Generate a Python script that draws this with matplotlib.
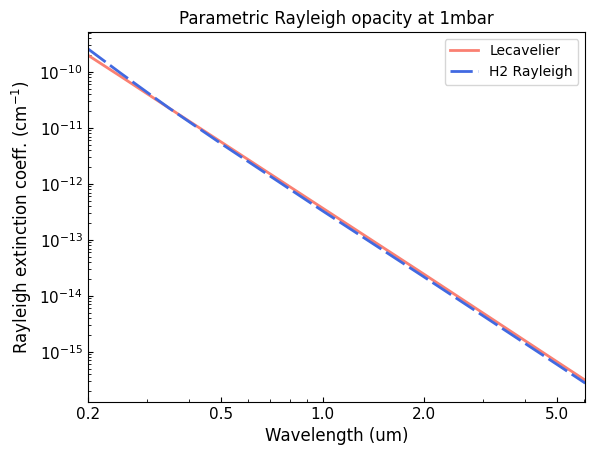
import matplotlib
matplotlib.use("Agg")
import matplotlib.pyplot as plt
from matplotlib.ticker import FixedLocator, FixedFormatter, NullFormatter

# values (wavelength in um, coeff in cm^-1)
wavelength = [0.2, 0.25, 0.3, 0.35, 0.5, 1.0, 2.0, 5.0, 6.06]
lecavelier = [2.0e-10, 8.4e-11, 4.1e-11, 2.24e-11, 5.56e-12, 3.7e-13, 2.46e-14, 6.6e-16, 3.1e-16]
h2_rayleigh = [2.6e-10, 9.6e-11, 4.35e-11, 2.24e-11, 5.2e-12, 3.3e-13, 2.2e-14, 5.9e-16, 2.75e-16]
xtick_vals = [0.2, 0.5, 1.0, 2.0, 5.0]
xtick_labels = ["0.2", "0.5", "1.0", "2.0", "5.0"]
ytick_vals = [1e-15, 1e-14, 1e-13, 1e-12, 1e-11, 1e-10]

fig, ax = plt.subplots(figsize=(5.93, 4.55), dpi=100)
fig.subplots_adjust(left=0.148, right=0.987, bottom=0.117, top=0.93)

ax.plot(wavelength, lecavelier, color="salmon", lw=2, label="Lecavelier")
ax.plot(wavelength, h2_rayleigh, color="royalblue", lw=2, ls=(0, (8, 2)), label="H2 Rayleigh")
ax.set_xscale("log")
ax.set_yscale("log")
ax.set_xlim(0.2, 6.06)
ax.set_ylim(1.28e-16, 5.2e-10)

ax.xaxis.set_major_locator(FixedLocator(xtick_vals))
ax.xaxis.set_major_formatter(FixedFormatter(xtick_labels))
ax.xaxis.set_minor_formatter(NullFormatter())
ax.set_yticks(ytick_vals)
ax.tick_params(which="both", direction="in", labelsize=11)

ax.set_xlabel("Wavelength (um)", fontsize=12)
ax.set_ylabel("Rayleigh extinction coeff. (cm$^{-1}$)", fontsize=12)
ax.set_title("Parametric Rayleigh opacity at 1mbar", fontsize=12)
ax.legend(loc="upper right")

plt.savefig("out.png")
